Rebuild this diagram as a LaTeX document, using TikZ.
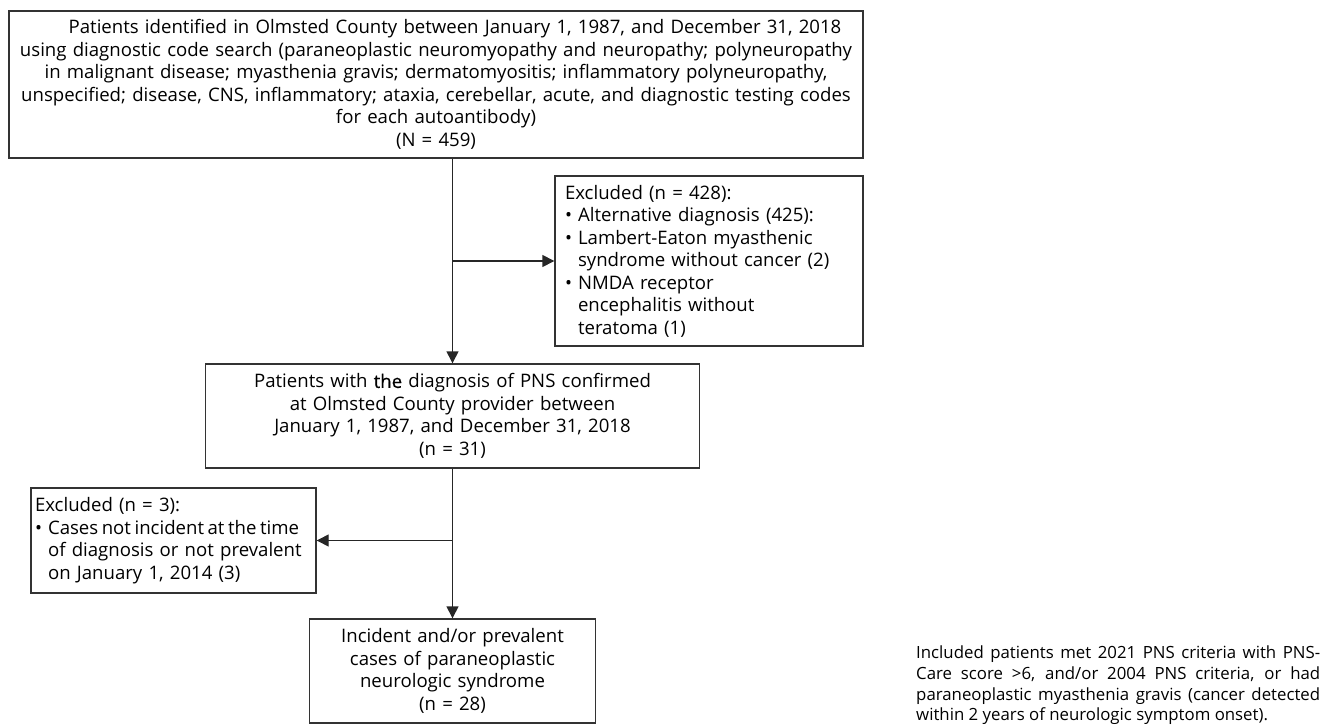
\documentclass[tikz,border=0pt]{standalone}
\usepackage{fontspec}
\setmainfont{Open Sans}
\newfontface\heavier[FakeBold=0.6]{Open Sans}
\usepackage{tikz}
\usetikzlibrary{positioning,calc,arrows.meta}

\newcommand{\flowtext}{\fontsize{18.6}{22.5}\selectfont}
\newcommand{\notetext}{\fontsize{16.8}{20.6}\selectfont}
\newcommand{\bul}{\makebox[0.7em][l]{\textbullet}}
\newcommand{\ind}{\hspace*{0.7em}}

\tikzset{
  box/.style={draw=black!80, line width=1.4pt, inner xsep=6pt, inner ysep=0pt, font=\flowtext},
  midbox/.style={box, align=center},
  exbox/.style={box, align=left},
  arr/.style={draw=black!85, line width=1.4pt, -{Triangle[length=12pt,width=12pt]}},
}

\begin{document}
\begin{tikzpicture}[x=1pt, y=-1pt]
  \useasboundingbox (0,0) rectangle (1337,727);

  % Identification box
  \node[midbox, minimum width=854pt, minimum height=147pt, text width=842pt] (ident) at (436,84.5) {%
    \hspace*{38pt}Patients identified in Olmsted County between January 1, 1987, and December 31, 2018\\
    using diagnostic code search (paraneoplastic neuromyopathy and neuropathy; polyneuropathy\\
    in malignant disease; myasthenia gravis; dermatomyositis; inflammatory polyneuropathy,\\
    unspecified; disease, CNS, inflammatory; ataxia, cerebellar, acute, and diagnostic testing codes\\
    for each autoantibody)\\
    (N = 459)};

  % First exclusion (right)
  \node[exbox, inner xsep=10pt, minimum width=308pt, minimum height=170pt, text width=288pt] (exclA) at (709,261) {%
    Excluded (n = 428):\\
    \bul Alternative diagnosis (425):\\
    \bul Lambert-Eaton myasthenic\\
    \ind syndrome without cancer (2)\\
    \bul NMDA receptor\\
    \ind encephalitis without\\
    \ind teratoma (1)};

  % Confirmed PNS box
  \node[midbox, minimum width=494pt, minimum height=104pt, text width=482pt] (confirm) at (452.5,416) {%
    Patients with {\heavier the} diagnosis of PNS confirmed\hspace*{38pt}\\
    at Olmsted County provider between\\
    January 1, 1987, and December 31, 2018\\
    (n = 31)};

  % Second exclusion (left), long line set a little tighter
  \node[exbox, inner xsep=4pt, minimum width=285pt, minimum height=105pt, text width=277pt] (exclB) at (173.5,540.5) {%
    Excluded (n = 3):\\
    \bul{\spaceskip=0.19em\relax\mbox{Cases not incident at the time}}\\
    \ind of diagnosis or not prevalent\\
    \ind on January 1, 2014 (3)};

  % Final cohort
  \node[midbox, minimum width=286pt, minimum height=104pt, text width=274pt] (cohort) at (452.5,671) {%
    Incident and/or prevalent\\
    cases of paraneoplastic\\
    neurologic syndrome\\
    (n = 28)};

  % Footnote
  \node[anchor=north west, inner sep=0pt, text width=404pt, align=justify, font=\notetext] (note) at (916,646) {%
    Included patients met 2021 PNS criteria with PNS-\linebreak
    Care score >6, and/or 2004 PNS criteria, or had\linebreak
    paraneoplastic myasthenia gravis (cancer detected\linebreak
    within 2 years of neurologic symptom onset).};

  % Connectors
  \draw[arr] (ident.south -| confirm.north) -- (confirm.north);
  \draw[arr] (exclA.west -| confirm.north) -- (exclA.west);
  \draw[arr] (confirm.south) -- (cohort.north);
  \draw[arr] (exclB.east -| cohort.north) -- (exclB.east);
\end{tikzpicture}
\end{document}
